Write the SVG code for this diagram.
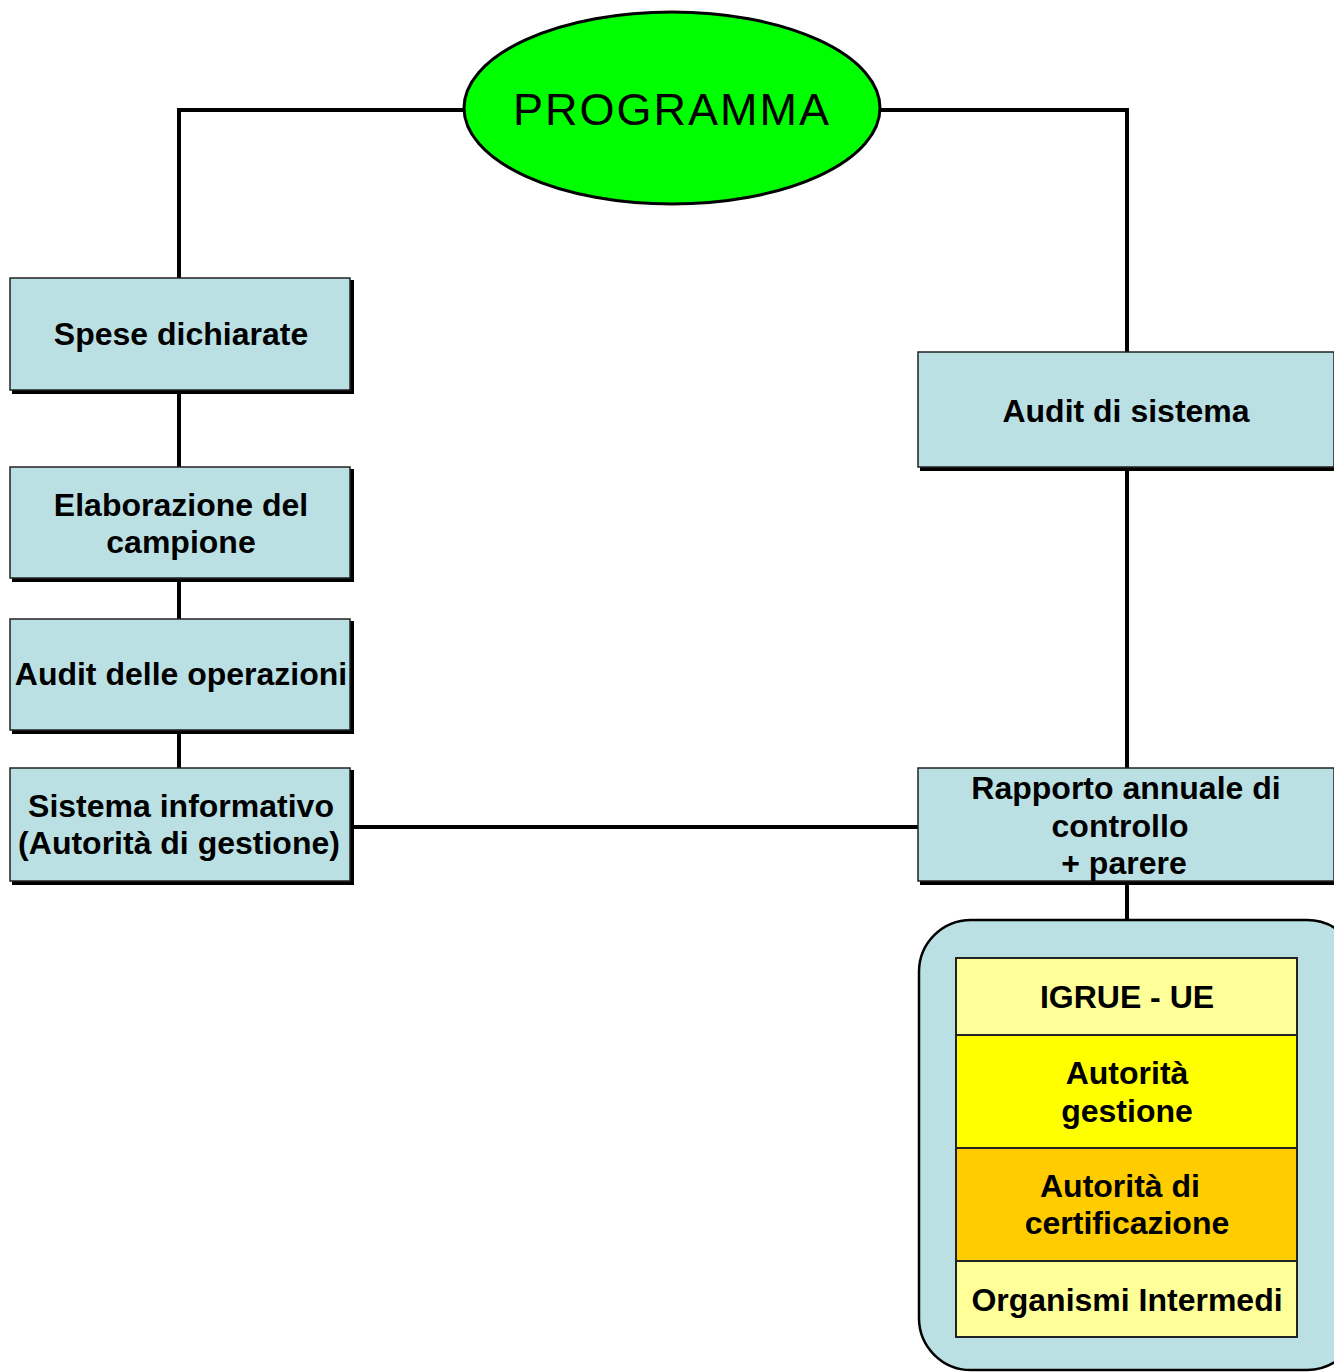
<svg xmlns="http://www.w3.org/2000/svg" width="1334" height="1372" viewBox="0 0 1334 1372">
  <style>
    .box { fill: #BBE0E3; stroke: #222; stroke-width: 1.5; }
    .shadow { fill: #000; }
    .lbl { font-family: "Liberation Sans", Arial, sans-serif; font-weight: bold; font-size: 32px; fill: #000; text-anchor: middle; }
    .wire { stroke: #000; stroke-width: 4; fill: none; }
    .band { stroke: #222; stroke-width: 2; }
  </style>

  <!-- connectors -->
  <g id="connectors">
    <polyline class="wire" points="464,110 179,110 179,278"/>
    <polyline class="wire" points="880,110 1127,110 1127,352"/>
    <line class="wire" x1="179" y1="392" x2="179" y2="467"/>
    <line class="wire" x1="179" y1="580" x2="179" y2="619"/>
    <line class="wire" x1="179" y1="732" x2="179" y2="768"/>
    <line class="wire" x1="1127" y1="469" x2="1127" y2="768"/>
    <line class="wire" x1="352" y1="827" x2="918" y2="827" stroke-width="3"/>
    <line class="wire" x1="1127" y1="883" x2="1127" y2="920"/>
  </g>

  <!-- programme root -->
  <g id="programma">
    <ellipse cx="672" cy="108" rx="208" ry="96" fill="#00FF00" stroke="#000" stroke-width="3"/>
    <text x="672" y="125" font-family="Liberation Sans, Arial, sans-serif" font-size="45" letter-spacing="2" text-anchor="middle" fill="#000">PROGRAMMA</text>
  </g>

  <g id="spese">
    <rect class="shadow" x="12" y="280" width="342" height="114"/>
    <rect class="box" x="10" y="278" width="340" height="112"/>
    <text class="lbl" x="181" y="345">Spese dichiarate</text>
  </g>

  <g id="elaborazione">
    <rect class="shadow" x="12" y="469" width="342" height="113"/>
    <rect class="box" x="10" y="467" width="340" height="111"/>
    <text class="lbl" x="181" y="516">Elaborazione del</text>
    <text class="lbl" x="181" y="553">campione</text>
  </g>

  <g id="audit-operazioni">
    <rect class="shadow" x="12" y="621" width="342" height="113"/>
    <rect class="box" x="10" y="619" width="340" height="111"/>
    <text class="lbl" x="181" y="685">Audit delle operazioni</text>
  </g>

  <g id="sistema-informativo">
    <rect class="shadow" x="12" y="770" width="342" height="115"/>
    <rect class="box" x="10" y="768" width="340" height="113"/>
    <text class="lbl" x="181" y="817">Sistema informativo</text>
    <text class="lbl" x="179" y="854">(Autorità di gestione)</text>
  </g>

  <g id="audit-sistema">
    <rect class="shadow" x="920" y="354" width="416" height="117"/>
    <rect class="box" x="918" y="352" width="416" height="115"/>
    <text class="lbl" x="1126" y="422">Audit di sistema</text>
  </g>

  <g id="rapporto">
    <rect class="shadow" x="920" y="770" width="416" height="115"/>
    <rect class="box" x="918" y="768" width="416" height="113"/>
    <text class="lbl" x="1126" y="799">Rapporto annuale di</text>
    <text class="lbl" x="1120" y="837">controllo</text>
    <text class="lbl" x="1124" y="874">+ parere</text>
  </g>

  <!-- recipients of the annual report -->
  <g id="destinatari">
    <rect x="919" y="920" width="440" height="450" rx="52" ry="52" fill="#BBE0E3" stroke="#000" stroke-width="2.5"/>
    <rect class="band" x="956" y="958" width="341" height="77" fill="#FFFF99"/>
    <rect class="band" x="956" y="1035" width="341" height="113" fill="#FFFF00"/>
    <rect class="band" x="956" y="1148" width="341" height="113" fill="#FFCC00"/>
    <rect class="band" x="956" y="1261" width="341" height="76" fill="#FFFF99"/>
    <text class="lbl" x="1127" y="1008" font-weight="normal">IGRUE - UE</text>
    <text class="lbl" x="1127" y="1084">Autorità</text>
    <text class="lbl" x="1127" y="1122">gestione</text>
    <text class="lbl" x="1120" y="1197">Autorità di</text>
    <text class="lbl" x="1127" y="1234">certificazione</text>
    <text class="lbl" x="1127" y="1311">Organismi Intermedi</text>
  </g>
</svg>
